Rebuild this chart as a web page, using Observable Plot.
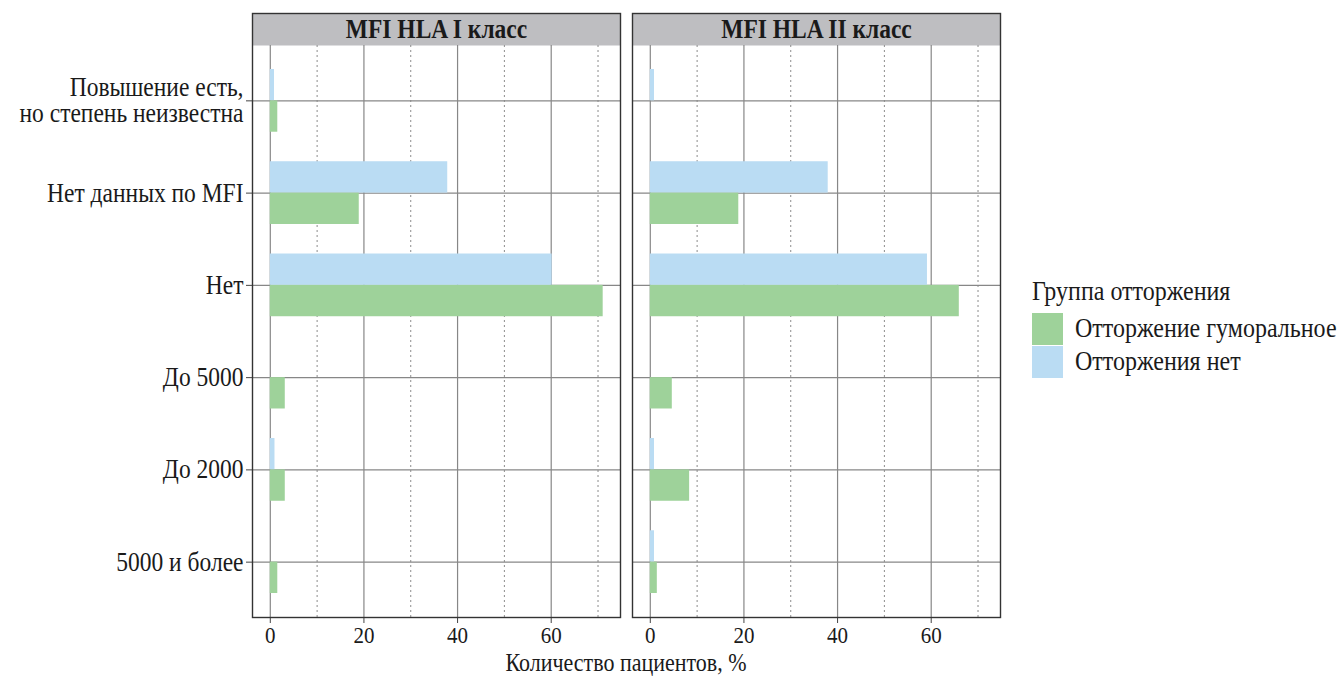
<!DOCTYPE html>
<html>
<head>
<meta charset="utf-8">
<script src="https://cdn.jsdelivr.net/npm/d3@7"></script>
<script src="https://cdn.jsdelivr.net/npm/@observablehq/plot@0.6"></script>
<style>
  body { margin: 0; background: #fff; font-family: "Liberation Serif", "Times New Roman", serif; color: #1a1a1a; }
  #wrap { position: relative; width: 1339px; height: 677px; overflow: hidden; }
  #chart { position: absolute; left: 0; top: 0; }
  .st { display: inline-block; transform: scaleY(1.13); transform-origin: center; white-space: nowrap; }
  #xlabel { position: absolute; left: 252px; width: 748px; top: 653px; text-align: center; font-size: 22px; line-height: 20px; }
  #legend { position: absolute; left: 1032px; top: 276px; font-size: 24px; }
  #legend .title { height: 30px; line-height: 30px; margin-bottom: 6px; }
  #legend .item { display: flex; align-items: center; height: 33px; }
  #legend .sw { width: 31px; height: 32px; margin-right: 12px; }
</style>
</head>
<body>
<div id="wrap">
  <div id="chart"></div>
  <div id="xlabel"></div>
  <div id="legend"></div>
</div>
<script>
// ---- data ----
const categories = [
  "Повышение есть,\nно степень неизвестна",
  "Нет данных по MFI",
  "Нет",
  "До 5000",
  "До 2000",
  "5000 и более"
];
const panels = ["MFI HLA I класс", "MFI HLA II класс"];
const groups = ["Отторжение гуморальное", "Отторжения нет"];
const groupColors = ["#9ed29a", "#badcf3"];
const legendTitle = "Группа отторжения";
const xTitle = "Количество пациентов, %";

// values in %, order follows categories
const humoralClassI  = [1.6, 19.0, 71.1, 3.2, 3.2, 1.6];
const noneClassI     = [0.9, 37.9, 60.2, 0,   1.0, 0];
const humoralClassII = [0,   18.9, 66.0, 4.7, 8.4, 1.5];
const noneClassII    = [0.9, 38.0, 59.2, 0,   0.9, 0.9];

const xMajorTicks = [0, 20, 40, 60];
const xMinorTicks = [10, 30, 50, 70];

// ---- table ----
const series = [
  [panels[0], groups[0], humoralClassI],
  [panels[0], groups[1], noneClassI],
  [panels[1], groups[0], humoralClassII],
  [panels[1], groups[1], noneClassII]
];
const rows = [];
for (const [panel, group, vals] of series) {
  vals.forEach((v, i) => rows.push({panel, group, category: categories[i], value: v}));
}

// ---- layout ----
const W = 1010, H = 677;
const mt = 45, mb = 60, ml = 252, mr = 10;
const stripH = 32;
const innerH = H - mt - mb;
const step = innerH / 6.2;
const half = step / 2;
const barH = 0.34 * step;
const stretch = 1.13;

const chart = Plot.plot({
  width: W,
  height: H,
  marginTop: mt,
  marginBottom: mb,
  marginLeft: ml,
  marginRight: mr,
  style: {fontFamily: "'Liberation Serif', 'Times New Roman', serif", fontSize: "21px", color: "#1a1a1a", background: "transparent", overflow: "visible"},
  fx: {domain: panels, paddingInner: 12 / 380, paddingOuter: 0, round: false, axis: null},
  x: {domain: [-3.8, 74.8], axis: null},
  y: {domain: categories, paddingInner: 0, paddingOuter: 0.1, round: false, axis: null},
  color: {domain: groups, range: groupColors},
  marks: [
    // strip background
    Plot.frame({fill: "#bebec1", stroke: "none", insetTop: -stripH, insetBottom: innerH}),
    Plot.gridX(xMinorTicks, {stroke: "#8c8c8c", strokeOpacity: 1, strokeWidth: 1, strokeDasharray: "2,3"}),
    Plot.gridX(xMajorTicks, {stroke: "#878787", strokeOpacity: 1, strokeWidth: 1.2}),
    Plot.gridY({stroke: "#878787", strokeOpacity: 1, strokeWidth: 1.2}),
    Plot.barX(rows.filter(d => d.group === groups[1]), {
      fx: "panel", y: "category", x: "value", fill: "group",
      insetTop: half - barH, insetBottom: half
    }),
    Plot.barX(rows.filter(d => d.group === groups[0]), {
      fx: "panel", y: "category", x: "value", fill: "group",
      insetTop: half, insetBottom: half - barH
    }),
    Plot.axisY({tickSize: 6, tickPadding: 3, stroke: "#444", label: null, fontSize: 23.5, lineHeight: 0.98, fill: "#1a1a1a"}),
    Plot.axisX(xMajorTicks, {tickSize: 6, tickPadding: 4, stroke: "#444", label: null, fontSize: 21, fill: "#1a1a1a"}),
    Plot.text(panels, {fx: d => d, text: d => d, frameAnchor: "top", dy: -stripH / 2, lineAnchor: "middle", fontWeight: "bold", fontSize: 23.5, fill: "#1a1a1a"}),
    Plot.frame({stroke: "#333", strokeWidth: 1.4, insetTop: -stripH})
  ]
});
document.getElementById("chart").appendChild(chart);

// the reference typeface is slightly taller than it is wide: stretch each text vertically about its centre
d3.select(chart).selectAll("text").each(function () {
  const b = this.getBBox();
  const cy = b.y + b.height / 2;
  const t = this.getAttribute("transform") || "";
  this.setAttribute("transform", `${t} translate(0,${cy}) scale(1,${stretch}) translate(0,${-cy})`);
});

// ---- x title ----
const xl = document.createElement("span");
xl.className = "st";
xl.textContent = xTitle;
document.getElementById("xlabel").appendChild(xl);

// ---- legend ----
const legend = document.getElementById("legend");
const t = document.createElement("div");
t.className = "title";
t.innerHTML = `<span class="st">${legendTitle}</span>`;
legend.appendChild(t);
groups.forEach((g, i) => {
  const item = document.createElement("div");
  item.className = "item";
  const sw = document.createElement("div");
  sw.className = "sw";
  sw.style.background = groupColors[i];
  const lab = document.createElement("span");
  lab.className = "st";
  lab.textContent = g;
  item.appendChild(sw);
  item.appendChild(lab);
  legend.appendChild(item);
});
</script>
</body>
</html>
